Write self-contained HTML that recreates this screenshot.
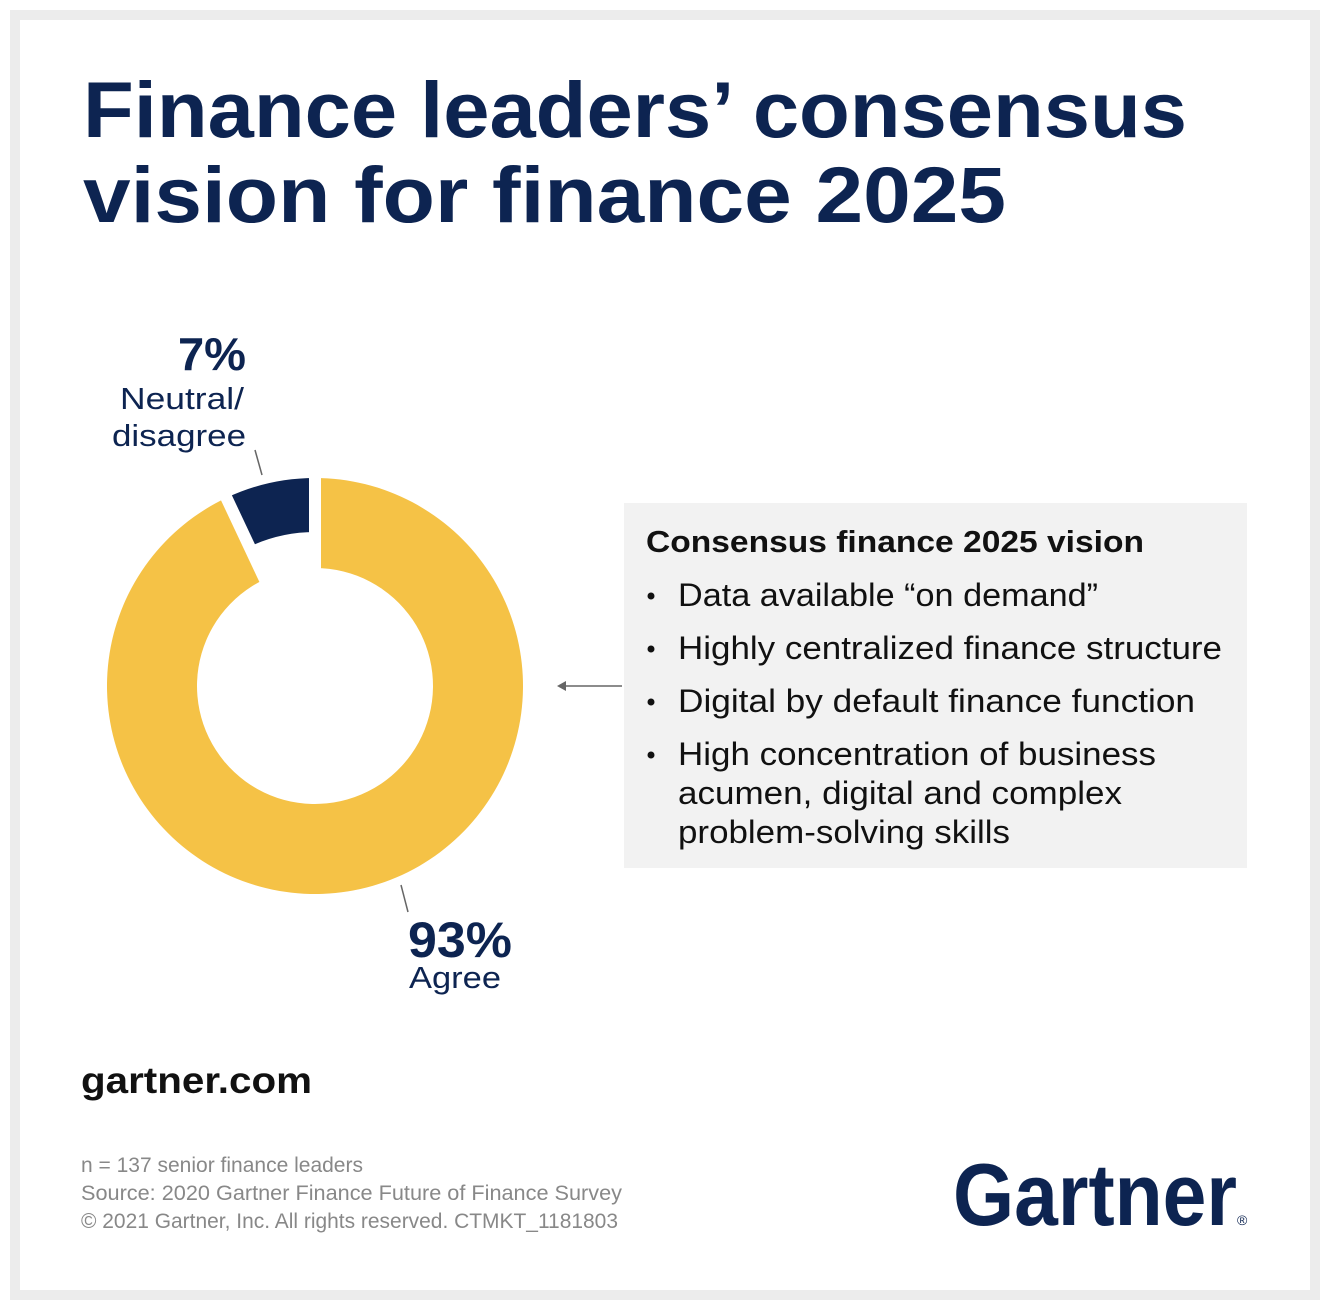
<!DOCTYPE html>
<html><head><meta charset="utf-8"><style>
html,body{margin:0;padding:0;background:#fff}
svg{display:block}
text{font-family:"Liberation Sans",sans-serif}
</style></head><body>
<svg id="chart" width="1325" height="1303" viewBox="0 0 1325 1303">
<rect x="0" y="0" width="1325" height="1303" fill="#fff"/>
<rect x="10" y="10" width="1310" height="1290" fill="#ececec"/>
<rect x="20" y="20" width="1290" height="1270" fill="#fff"/>
<text x="83" y="137" font-size="79" font-weight="bold" fill="#0d2451" textLength="1104" lengthAdjust="spacingAndGlyphs">Finance leaders’ consensus</text>
<text x="83" y="222" font-size="79" font-weight="bold" fill="#0d2451" textLength="923" lengthAdjust="spacingAndGlyphs">vision for finance 2025</text>
<g id="donut"></g>
<line x1="255" y1="450" x2="262" y2="475" stroke="#666" stroke-width="1.5"/>
<line x1="401" y1="885" x2="408" y2="912" stroke="#666" stroke-width="1.5"/>
<text id="lblN" x="246" y="370" font-size="46" font-weight="bold" fill="#0d2451" text-anchor="end" textLength="68" lengthAdjust="spacingAndGlyphs">7%</text>
<text x="244" y="409" font-size="31" fill="#0d2451" text-anchor="end" textLength="124" lengthAdjust="spacingAndGlyphs">Neutral/</text>
<text x="246" y="446" font-size="31" fill="#0d2451" text-anchor="end" textLength="134" lengthAdjust="spacingAndGlyphs">disagree</text>
<text id="lblA" x="408" y="957" font-size="50" font-weight="bold" fill="#0d2451" textLength="104" lengthAdjust="spacingAndGlyphs">93%</text>
<text x="409" y="988" font-size="31" fill="#0d2451" textLength="92" lengthAdjust="spacingAndGlyphs">Agree</text>
<g>
<line x1="560" y1="686" x2="622" y2="686" stroke="#666" stroke-width="1.5"/>
<path d="M557 686 L566 681 L566 691 Z" fill="#666"/>
</g>
<rect x="624" y="503" width="623" height="365" fill="#f2f2f2"/>
<text x="646" y="552" font-size="31" font-weight="bold" fill="#111" textLength="498" lengthAdjust="spacingAndGlyphs">Consensus finance 2025 vision</text>
<g fill="#111" font-size="32">
<circle cx="651" cy="596" r="3.5"/><circle cx="651" cy="649" r="3.5"/><circle cx="651" cy="702" r="3.5"/><circle cx="651" cy="755" r="3.5"/>
<text x="678" y="606" textLength="420" lengthAdjust="spacingAndGlyphs">Data available “on demand”</text>
<text x="678" y="659" textLength="544" lengthAdjust="spacingAndGlyphs">Highly centralized finance structure</text>
<text x="678" y="712" textLength="517" lengthAdjust="spacingAndGlyphs">Digital by default finance function</text>
<text x="678" y="765" textLength="478" lengthAdjust="spacingAndGlyphs">High concentration of business</text>
<text x="678" y="804" textLength="444" lengthAdjust="spacingAndGlyphs">acumen, digital and complex</text>
<text x="678" y="843" textLength="332" lengthAdjust="spacingAndGlyphs">problem-solving skills</text>
</g>
<text x="81" y="1093" font-size="37" font-weight="bold" fill="#111" textLength="231" lengthAdjust="spacingAndGlyphs">gartner.com</text>
<g fill="#888" font-size="21">
<text x="81" y="1172" textLength="282" lengthAdjust="spacingAndGlyphs">n = 137 senior finance leaders</text>
<text x="81" y="1200" textLength="541" lengthAdjust="spacingAndGlyphs">Source: 2020 Gartner Finance Future of Finance Survey</text>
<text x="81" y="1228" textLength="537" lengthAdjust="spacingAndGlyphs">© 2021 Gartner, Inc. All rights reserved. CTMKT_1181803</text>
</g>
<text x="953" y="1225" font-size="88" font-weight="bold" fill="#0d2451" textLength="284" lengthAdjust="spacingAndGlyphs">Gartner</text>
<text x="1237" y="1225" font-size="14" fill="#0d2451">®</text>
</svg>
<script>
const categories = ['Agree', 'Neutral/disagree'];
const values = [93, 7];
const colors = ['#f5c246', '#0d2451'];
const cx = 315, cy = 686, R = 208;
const innerR = [118, 154];
const NS = 'http://www.w3.org/2000/svg';
const g = document.getElementById('donut');
const total = values.reduce((a, b) => a + b, 0);
function pt(r, a) { return [cx + r * Math.sin(a), cy - r * Math.cos(a)]; }
function arc(a0, a1, ro, ri) {
  const large = (a1 - a0) > Math.PI ? 1 : 0;
  const p0 = pt(ro, a0), p1 = pt(ro, a1), p2 = pt(ri, a1), p3 = pt(ri, a0);
  return `M${p0} A${ro},${ro} 0 ${large} 1 ${p1} L${p2} A${ri},${ri} 0 ${large} 0 ${p3} Z`;
}
let acc = 0;
const bounds = [];
values.forEach((v, i) => {
  const a0 = acc / total * 2 * Math.PI;
  acc += v;
  const a1 = acc / total * 2 * Math.PI;
  bounds.push(a0);
  const p = document.createElementNS(NS, 'path');
  p.setAttribute('d', arc(a0, a1, R, innerR[i]));
  p.setAttribute('fill', colors[i]);
  
  
  g.appendChild(p);
});
bounds.forEach(a => {
  const p0 = pt(0, a), p1 = pt(R + 4, a);
  const l = document.createElementNS(NS, 'line');
  l.setAttribute('x1', p0[0]); l.setAttribute('y1', p0[1]);
  l.setAttribute('x2', p1[0]); l.setAttribute('y2', p1[1]);
  l.setAttribute('stroke', '#fff');
  l.setAttribute('stroke-width', '12');
  
  
  g.appendChild(l);
});
document.getElementById('lblA').textContent = values[0] + '%';
document.getElementById('lblN').textContent = values[1] + '%';
</script>
</body></html>
